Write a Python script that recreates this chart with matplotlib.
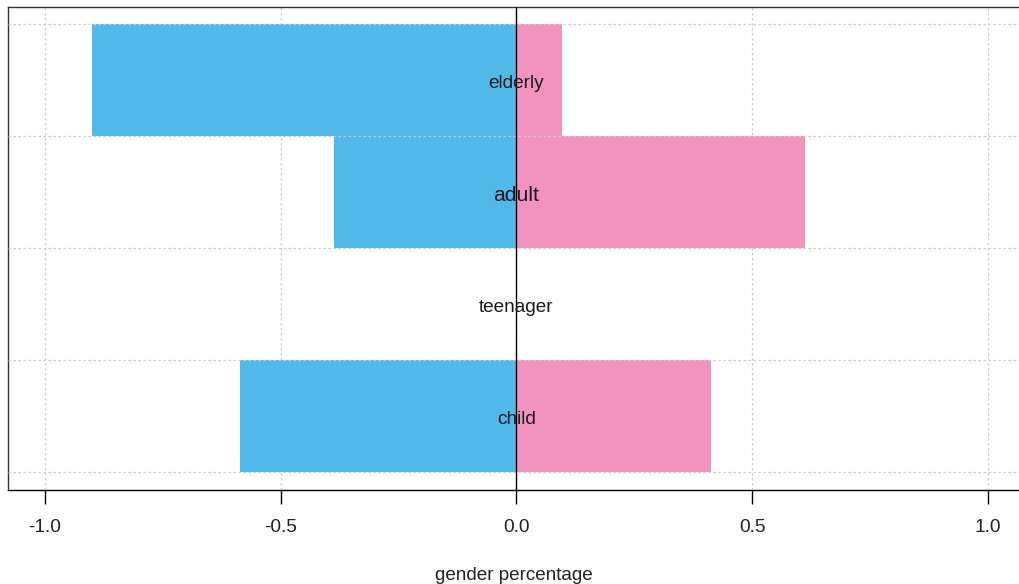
import matplotlib.pyplot as plt
import numpy as np

plt.rcParams['font.family'] = ['Liberation Sans', 'DejaVu Sans']

# age groups, bottom to top
groups = ["child", "teenager", "adult", "elderly"]
male_pct = [0.587, 0.0, 0.388, 0.901]
female_pct = [0.413, 0.0, 0.612, 0.097]
label_sizes = [13.7, 13.7, 15.3, 13.7]

fig = plt.figure(figsize=(10.2, 5.84), dpi=100)
ax = fig.add_axes([8 / 1020, 94 / 584, 1012 / 1020, 483 / 584])

y = np.arange(len(groups))
ax.barh(y, [-v for v in male_pct], height=1.0, color='#50B9E8', zorder=2)
ax.barh(y, female_pct, height=1.0, color='#F293BF', zorder=2)

# grid
for gx in [-1.0, -0.5, 0.0, 0.5, 1.0]:
    ax.axvline(gx, color='#cccccc', linestyle=(0, (2, 2)), lw=0.9, zorder=1)
for gy in np.arange(len(groups) + 1) - 0.5:
    ax.axhline(gy, color='#cccccc', linestyle=(0, (2, 2)), lw=0.9, zorder=3)
ax.axvline(0, color='black', lw=1.0, zorder=4)

for yi, name, fs in zip(y, groups, label_sizes):
    ax.text(0.0, yi - 0.03, name, ha='center', va='center', fontsize=fs,
            color='#1a1a1a', zorder=5)

ax.set_xlim(-1.0785, 1.068)
ax.set_ylim(-0.661, 3.652)
ax.set_xticks([-1.0, -0.5, 0.0, 0.5, 1.0])
ax.set_xticklabels(["-1.0", "-0.5", "0.0", "0.5", "1.0"], fontsize=13.8, color='#222222')
ax.tick_params(axis='x', length=10, width=1, pad=11)
ax.set_yticks([])
ax.spines['right'].set_visible(False)
for s in ['left', 'top', 'bottom']:
    ax.spines[s].set_linewidth(1.0)
    ax.spines[s].set_color('#333333')
ax.spines['bottom'].set_color('black')
ax.set_xlabel("gender percentage", fontsize=13.6, color='#222222', labelpad=22)

fig.savefig("out.png", dpi=100)
